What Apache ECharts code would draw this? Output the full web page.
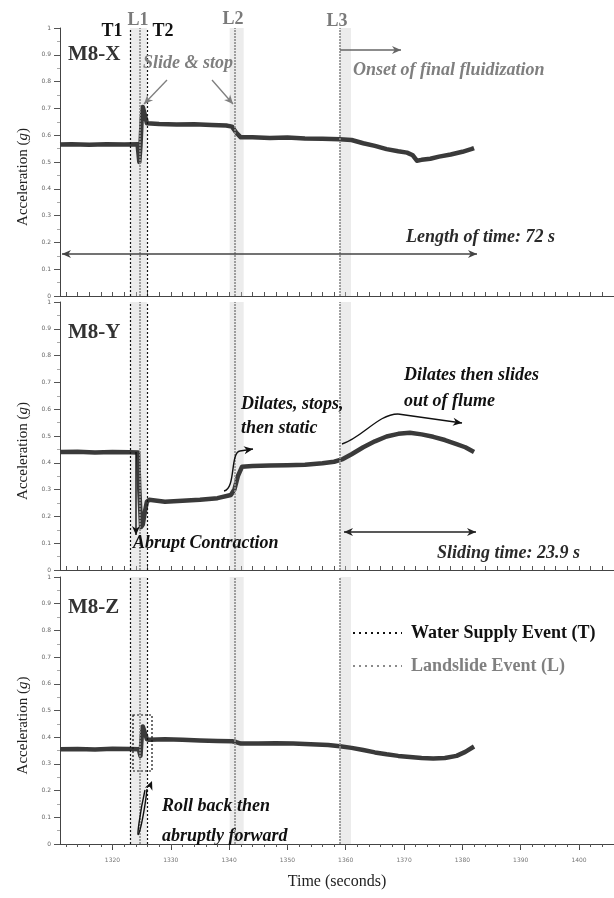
<!DOCTYPE html>
<html>
<head>
<meta charset="utf-8">
<script src="https://cdn.jsdelivr.net/npm/echarts@6/dist/echarts.min.js"></script>
<style>
html,body{margin:0;padding:0;background:#fff;}
#c{width:614px;height:898px;}
</style>
</head>
<body>
<div id="c"></div>
<script>
// ---------------- data ----------------
const panelNames = ['M8-X', 'M8-Y', 'M8-Z'];

const tX = [1311, 1313, 1316, 1319, 1322, 1324.3, 1324.6, 1324.8, 1325.0, 1325.2, 1325.5, 1325.9, 1326.2, 1328, 1331, 1334, 1337, 1339.5, 1340.5, 1341.2, 1342, 1344, 1347, 1350, 1353, 1356, 1359, 1361, 1363, 1365, 1367, 1369, 1370.5, 1371.5, 1372.2, 1373, 1374.5, 1376, 1378, 1380, 1381.5, 1382];
const vX = [0.565, 0.566, 0.564, 0.566, 0.565, 0.566, 0.50, 0.56, 0.66, 0.705, 0.68, 0.645, 0.64, 0.642, 0.64, 0.641, 0.638, 0.636, 0.632, 0.61, 0.592, 0.592, 0.59, 0.591, 0.588, 0.587, 0.585, 0.582, 0.57, 0.56, 0.548, 0.54, 0.535, 0.525, 0.505, 0.508, 0.512, 0.52, 0.528, 0.538, 0.548, 0.552];

const tY = [1311, 1314, 1317, 1320, 1323, 1324.4, 1324.6, 1324.9, 1325.2, 1325.5, 1325.9, 1326.3, 1329, 1332, 1335, 1338, 1340.3, 1340.9, 1341.5, 1342.2, 1344, 1347, 1350, 1353, 1356, 1358, 1359.5, 1361, 1363, 1365, 1367, 1369, 1371, 1373, 1375, 1377, 1379, 1380.5, 1382];
const vY = [0.44, 0.441, 0.438, 0.44, 0.439, 0.438, 0.30, 0.16, 0.17, 0.21, 0.255, 0.262, 0.255, 0.258, 0.262, 0.268, 0.28, 0.30, 0.35, 0.385, 0.388, 0.39, 0.391, 0.393, 0.398, 0.404, 0.414, 0.432, 0.458, 0.48, 0.498, 0.508, 0.512, 0.506, 0.497, 0.485, 0.47, 0.458, 0.44];

const tZ = [1311, 1314, 1317, 1320, 1323, 1324.5, 1324.8, 1325.0, 1325.2, 1325.5, 1325.9, 1326.3, 1329, 1332, 1335, 1338, 1340.5, 1341.2, 1342, 1345, 1348, 1351, 1354, 1357, 1359, 1361, 1363, 1365, 1367, 1369, 1371, 1373, 1375, 1377, 1379, 1380.5, 1382];
const vZ = [0.355, 0.356, 0.354, 0.357, 0.356, 0.355, 0.33, 0.40, 0.44, 0.42, 0.393, 0.39, 0.392, 0.39, 0.388, 0.386, 0.385, 0.382, 0.376, 0.376, 0.377, 0.376, 0.374, 0.371, 0.366, 0.36, 0.352, 0.343, 0.336, 0.33, 0.326, 0.322, 0.32, 0.322, 0.33, 0.345, 0.365];

const waterEvents = [1323.0, 1325.9];        // T1, T2
const slideEvents = [1324.6, 1341.0, 1359.0]; // L1, L2, L3
const slideBands = [[1323.0, 1325.9], [1340.1, 1342.5], [1359.0, 1360.9]];

const xMajorTicks = [1320, 1330, 1340, 1350, 1360, 1370, 1380, 1390, 1400];
const xMinorTicks = [1312, 1314, 1316, 1318, 1320, 1322, 1324, 1326, 1328, 1330, 1332, 1334, 1336, 1338, 1340, 1342, 1344, 1346, 1348, 1350, 1352, 1354, 1356, 1358, 1360, 1362, 1364, 1366, 1368, 1370, 1372, 1374, 1376, 1378, 1380, 1382, 1384, 1386, 1388, 1390, 1392, 1394, 1396, 1398, 1400, 1402, 1404, 1406];

// ---------------- layout ----------------
const SERIF = '"Liberation Serif", "Times New Roman", serif';
const X_MIN = 1311, X_MAX = 1406;
const grids = [
  {left: 60, right: 0, top: 28, height: 268},
  {left: 60, right: 0, top: 302, height: 268},
  {left: 60, right: 0, top: 577, height: 267}
];

const chart = echarts.init(document.getElementById('c'), null, {renderer: 'canvas'});

const xAxes = [];
const yAxes = [];
for (let i = 0; i < 3; i++) {
  const bottom = (i === 2);
  xAxes.push({
    type: 'value', gridIndex: i, min: X_MIN, max: X_MAX, position: 'bottom',
    axisLine: {show: true, onZero: false, lineStyle: {color: '#444', width: 1}},
    axisTick: bottom
      ? {show: true, inside: false, length: 6, customValues: xMajorTicks, lineStyle: {color: '#444'}}
      : {show: true, inside: true, length: 4, customValues: xMinorTicks, lineStyle: {color: '#555'}},
    axisLabel: bottom
      ? {show: true, customValues: xMajorTicks, fontSize: 6, color: '#777', margin: 13, fontFamily: 'DejaVu Sans',
         formatter: v => String(v)}
      : {show: false},
    splitLine: {show: false},
    name: bottom ? 'Time (seconds)' : '',
    nameLocation: 'middle', nameGap: 30,
    nameTextStyle: {fontFamily: SERIF, fontSize: 16, color: '#222'}
  });
  yAxes.push({
    type: 'value', gridIndex: i, min: 0, max: 1, interval: 0.1,
    axisLine: {show: true, lineStyle: {color: '#444', width: 1}},
    axisTick: {show: true, length: 6, lineStyle: {color: '#555'}},
    minorTick: {show: true, splitNumber: 2, length: 3, lineStyle: {color: '#aaa'}},
    axisLabel: {fontSize: 6, color: '#666', margin: 9, fontFamily: 'DejaVu Sans',
      formatter: v => (Math.round(v * 10) / 10).toString()},
    splitLine: {show: false},
    name: '{n|Acceleration (}{i|g}{n|)}',
    nameLocation: 'middle', nameGap: 27,
    nameTextStyle: {
      padding: [0, 30, 0, 0],
      rich: {
        n: {fontFamily: SERIF, fontSize: 15, color: '#222'},
        i: {fontFamily: SERIF, fontSize: 15, color: '#222', fontStyle: 'italic'}
      }
    }
  });
}
// extra axis for minor ticks of the bottom panel
xAxes.push({
  type: 'value', gridIndex: 2, min: X_MIN, max: X_MAX, position: 'bottom',
  axisLine: {show: false, onZero: false},
  axisTick: {show: true, inside: false, length: 3, customValues: xMinorTicks, lineStyle: {color: '#555'}},
  axisLabel: {show: false}, splitLine: {show: false}
});

function eventMarks() {
  const data = [];
  waterEvents.forEach(v => data.push({xAxis: v, lineStyle: {color: '#111', type: [2, 2], width: 1.2}}));
  slideEvents.forEach(v => data.push({xAxis: v, lineStyle: {color: '#8a8a8a', type: [2, 1], width: 1.6}}));
  return {silent: true, symbol: ['none', 'none'], label: {show: false}, animation: false, data: data};
}
function bandMarks() {
  return {silent: true, itemStyle: {color: 'rgba(200,200,200,0.35)'}, label: {show: false},
    data: slideBands.map(b => [{xAxis: b[0]}, {xAxis: b[1]}])};
}
function mkSeries(i, t, v, name) {
  return {
    type: 'line', name: name, xAxisIndex: i, yAxisIndex: i,
    data: t.map((x, k) => [x, v[k]]),
    showSymbol: false, smooth: false, animation: false,
    lineStyle: {color: '#3a3a3a', width: 4.5, join: 'round'},
    markLine: eventMarks(),
    markArea: bandMarks(),
    z: 3
  };
}

// ---------------- annotation helpers ----------------
function txt(x, y, s, size, color, weight, style, align) {
  return {type: 'text', z: 20, style: {
    x: x, y: y, text: s, fill: color,
    font: (style || 'normal') + ' ' + (weight || 'normal') + ' ' + size + 'px ' + SERIF,
    align: align || 'left', verticalAlign: 'middle'
  }};
}
function seg(x1, y1, x2, y2, color, w, dash) {
  return {type: 'line', z: 20, shape: {x1, y1, x2, y2},
    style: {stroke: color, lineWidth: w || 1.3, lineDash: dash || null}};
}
function head(fx, fy, tx, ty, color, size) {
  size = size || 8;
  const a = Math.atan2(ty - fy, tx - fx);
  const w = size * 0.45;
  const bx = tx - size * Math.cos(a), by = ty - size * Math.sin(a);
  return {type: 'polygon', z: 21, shape: {points: [
    [tx, ty],
    [bx + w * Math.sin(a), by - w * Math.cos(a)],
    [tx - size * 0.7 * Math.cos(a), ty - size * 0.7 * Math.sin(a)],
    [bx - w * Math.sin(a), by + w * Math.cos(a)]
  ]}, style: {fill: color}};
}
function arrow(x1, y1, x2, y2, color, w) {
  return [seg(x1, y1, x2, y2, color, w), head(x1, y1, x2, y2, color, 9)];
}
function dblArrow(x1, y1, x2, y2, color, w) {
  return [seg(x1, y1, x2, y2, color, w), head(x1, y1, x2, y2, color, 9), head(x2, y2, x1, y1, color, 9)];
}
function curve(x1, y1, c1x, c1y, c2x, c2y, x2, y2, color, w) {
  return {type: 'bezierCurve', z: 20, shape: {x1, y1, x2, y2, cpx1: c1x, cpy1: c1y, cpx2: c2x, cpy2: c2y},
    style: {stroke: color, lineWidth: w || 1.4, fill: 'none'}};
}

const GRAY = '#7f7f7f', DARK = '#2a2a2a', BLACK = '#111';
const g = [];
// panel titles
g.push(txt(68, 55, panelNames[0], 21, '#333', 'bold'));
g.push(txt(68, 333, panelNames[1], 21, '#333', 'bold'));
g.push(txt(68, 608, panelNames[2], 21, '#333', 'bold'));
// event labels
g.push(txt(112, 31, 'T1', 18, BLACK, 'bold', 'normal', 'center'));
g.push(txt(163, 31, 'T2', 18, BLACK, 'bold', 'normal', 'center'));
g.push(txt(138, 20, 'L1', 18, '#7a7a7a', 'bold', 'normal', 'center'));
g.push(txt(233, 19, 'L2', 18, '#7a7a7a', 'bold', 'normal', 'center'));
g.push(txt(337, 21, 'L3', 18, '#7a7a7a', 'bold', 'normal', 'center'));
// top panel
g.push(txt(143, 63, 'Slide & stop', 18, GRAY, 'bold', 'italic'));
g.push(...arrow(167, 80, 144, 104, GRAY, 1.3));
g.push(...arrow(212, 80, 233, 104, GRAY, 1.3));
g.push(...arrow(340, 50, 401, 50, '#666', 1.5));
g.push(txt(353, 70, 'Onset of final fluidization', 18, GRAY, 'bold', 'italic'));
g.push(txt(406, 237, 'Length of time: 72 s', 18, DARK, 'bold', 'italic'));
g.push(...dblArrow(62, 254, 477, 254, '#444', 1.4));
// middle panel
g.push(...arrow(136, 452, 136, 535, BLACK, 1.4));
g.push(txt(133, 543, 'Abrupt Contraction', 18, BLACK, 'bold', 'italic'));
g.push(curve(224, 491, 236, 489, 230, 452, 240, 451, BLACK, 1.4));
g.push(...arrow(240, 451, 253, 449, BLACK, 1.4));
g.push(txt(241, 404, 'Dilates, stops,', 18, BLACK, 'bold', 'italic'));
g.push(txt(241, 428, 'then static', 18, BLACK, 'bold', 'italic'));
g.push(txt(404, 375, 'Dilates then slides', 18, BLACK, 'bold', 'italic'));
g.push(txt(404, 401, 'out of flume', 18, BLACK, 'bold', 'italic'));
g.push(curve(342, 444, 362, 438, 378, 414, 398, 414, BLACK, 1.4));
g.push(...arrow(398, 414, 462, 423, BLACK, 1.4));
g.push(...dblArrow(344, 532, 476, 532, '#222', 1.4));
g.push(txt(437, 553, 'Sliding time: 23.9 s', 18, DARK, 'bold', 'italic'));
// bottom panel
g.push({type: 'rect', z: 20, shape: {x: 133, y: 715, width: 19, height: 56},
  style: {stroke: BLACK, lineWidth: 1.2, lineDash: [2, 2], fill: 'none'}});
g.push(curve(145, 790, 140, 812, 136, 842, 139, 833, BLACK, 1.4));
g.push(curve(139, 833, 142, 825, 146, 800, 147, 789, BLACK, 1.4));
g.push(head(146, 796, 152, 781, BLACK, 9));
g.push(txt(162, 806, 'Roll back then', 18, BLACK, 'bold', 'italic'));
g.push(txt(162, 836, 'abruptly forward', 18, BLACK, 'bold', 'italic'));
// legend
g.push(seg(353, 633, 402, 633, BLACK, 2, [2, 4]));
g.push(txt(411, 633, 'Water Supply Event (T)', 18, BLACK, 'bold'));
g.push(seg(353, 666, 402, 666, '#8a8a8a', 2, [2, 4]));
g.push(txt(411, 666, 'Landslide Event (L)', 18, '#808080', 'bold'));

chart.setOption({
  animation: false,
  backgroundColor: '#fff',
  grid: grids,
  xAxis: xAxes,
  yAxis: yAxes,
  series: [
    mkSeries(0, tX, vX, panelNames[0]),
    mkSeries(1, tY, vY, panelNames[1]),
    mkSeries(2, tZ, vZ, panelNames[2])
  ],
  graphic: g
});
</script>
</body>
</html>
